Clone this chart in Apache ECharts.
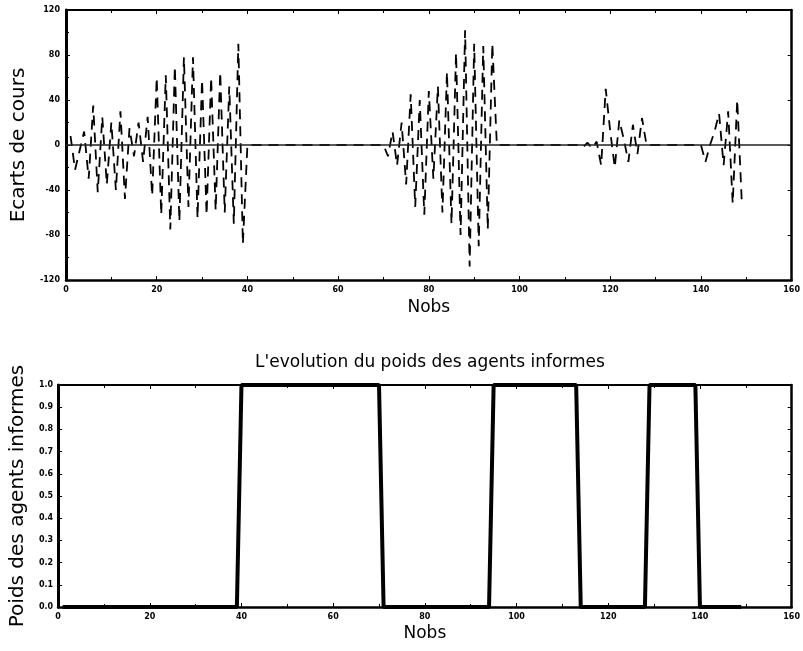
<!DOCTYPE html>
<html>
<head>
<meta charset="utf-8">
<script src="https://cdn.jsdelivr.net/npm/echarts@6/dist/echarts.min.js"></script>
<style>
html,body{margin:0;padding:0;background:#fff;}
#c{width:803px;height:651px;}
</style>
</head>
<body>
<div id="c"></div>
<script>
// Observation numbers
const obs = Array.from({length: 149}, (_, i) => i + 1);

// Ecarts de cours (price deviations), by regime block
const ecartsA = [8, -22, -5, 12, -30, 35, -42, 25, -35, 20,
                 -40, 30, -48, 15, -10, 20, -15, 25, -45, 60,
                 -62, 62, -75, 70, -68, 78, -55, 78, -65, 58,
                 -62, 60, -58, 65, -60, 52, -70, 90, -88];          // obs 1-39
const ecartsB = [0,0,0,0,0,0,0,0,0,0,0,0,0,0,0,0,0,0,0,0,0,0,0,0,0,0,0,0,0,0,0]; // obs 40-70
const ecartsC = [-10, 12, -18, 20, -35, 45, -55, 40, -62, 48, -30, 52, -60,
                 65, -70, 82, -80, 102, -108, 90, -90, 88, -75, 90]; // obs 71-94
const ecartsD = [0,0,0,0,0,0,0,0,0,0,0,0,0,0,0,0,0,0];               // obs 95-112
const ecartsE = [0, -2, 2, -3, 3, -18, 50, 12, -20, 22, 5, -15, 18, -8, 24, 0]; // obs 113-128
const ecartsF = [0,0,0,0,0,0,0,0,0,0,0];                              // obs 129-139
const ecartsG = [0, -15, 0, 12, 28, -18, 30, -52, 40, -50];           // obs 140-149
const ecarts = [].concat(ecartsA, ecartsB, ecartsC, ecartsD, ecartsE, ecartsF, ecartsG);

// Poids des agents informes (0 / 1 regime)
const poids = [].concat(
  new Array(39).fill(0),   // 1-39
  new Array(31).fill(1),   // 40-70
  new Array(24).fill(0),   // 71-94
  new Array(19).fill(1),   // 95-113
  new Array(15).fill(0),   // 114-128
  new Array(11).fill(1),   // 129-139
  new Array(10).fill(0)    // 140-149
);

const xTicks = {min: 0, max: 160, interval: 20};
const yTop = {min: -120, max: 120, interval: 40};
const yBot = {min: 0, max: 1, interval: 0.1};

const labelStyle = {fontFamily: 'DejaVu Sans', fontSize: 8, fontWeight: 'bold', color: '#000'};
const nameStyle = {fontFamily: 'DejaVu Sans', fontSize: 20, color: '#000'};

function mainX(grid, gap) {
  return {
    type: 'value', gridIndex: grid, min: xTicks.min, max: xTicks.max, interval: xTicks.interval,
    name: 'Nobs', nameLocation: 'middle', nameGap: gap,
    nameTextStyle: {fontFamily: 'DejaVu Sans', fontSize: 17, color: '#000'},
    axisLine: {show: true, onZero: false, lineStyle: {color: '#000', width: 2.5}},
    axisTick: {show: true, inside: true, length: 4, lineStyle: {color: '#000', width: 1}},
    minorTick: {show: true, splitNumber: 2, length: 3, lineStyle: {color: '#000'}},
    axisLabel: Object.assign({margin: 6}, labelStyle),
    splitLine: {show: false}
  };
}
function frameX(grid) {
  return {
    type: 'value', gridIndex: grid, position: 'top', min: xTicks.min, max: xTicks.max, interval: xTicks.interval,
    axisLine: {show: true, onZero: false, lineStyle: {color: '#000', width: 2}},
    axisTick: {show: true, inside: true, length: 4, lineStyle: {color: '#000'}},
    minorTick: {show: true, splitNumber: 2, length: 3, lineStyle: {color: '#000'}},
    axisLabel: {show: false}, splitLine: {show: false}
  };
}
function frameY(grid, r) {
  return {
    type: 'value', gridIndex: grid, position: 'right', min: r.min, max: r.max, interval: r.interval,
    axisLine: {show: true, onZero: false, lineStyle: {color: '#000', width: 2.5}},
    axisTick: {show: true, inside: true, length: 4, lineStyle: {color: '#000'}},
    axisLabel: {show: false}, splitLine: {show: false}
  };
}

const option = {
  animation: false,
  backgroundColor: '#fff',
  title: {
    text: "L'evolution du poids des agents informes",
    left: 425, textAlign: 'center', top: 349,
    textStyle: {fontFamily: 'DejaVu Sans', fontSize: 17, fontWeight: 'normal', color: '#000'}
  },
  grid: [
    {left: 66, top: 10, width: 730, height: 270, show: false},
    {left: 54, top: 385, width: 743, height: 222, show: false}
  ],
  xAxis: [mainX(0, 19), frameX(0), mainX(1, 18), frameX(1)],
  yAxis: [
    {
      type: 'value', gridIndex: 0, min: yTop.min, max: yTop.max, interval: yTop.interval,
      name: 'Ecarts de cours', nameLocation: 'middle', nameGap: 34, nameRotate: 90,
      nameTextStyle: nameStyle,
      axisLine: {show: true, onZero: false, lineStyle: {color: '#000', width: 3}},
      axisTick: {show: true, inside: true, length: 4, lineStyle: {color: '#000'}},
      minorTick: {show: true, splitNumber: 2, length: 3, lineStyle: {color: '#000'}},
      axisLabel: Object.assign({margin: 6}, labelStyle),
      splitLine: {show: false}
    },
    frameY(0, yTop),
    {
      type: 'value', gridIndex: 1, min: yBot.min, max: yBot.max, interval: yBot.interval,
      name: 'Poids des agents informes', nameLocation: 'middle', nameGap: 27, nameRotate: 90,
      nameTextStyle: nameStyle,
      axisLine: {show: true, onZero: false, lineStyle: {color: '#000', width: 3}},
      axisTick: {show: true, inside: true, length: 4, lineStyle: {color: '#000'}},
      axisLabel: Object.assign({margin: 5, formatter: v => v.toFixed(1)}, labelStyle),
      splitLine: {show: false}
    },
    frameY(1, yBot)
  ],
  series: [
    {
      type: 'line', xAxisIndex: 0, yAxisIndex: 0, symbol: 'none',
      data: obs.map((o, i) => [o, ecarts[i]]),
      lineStyle: {color: '#000', width: 1.8, type: [10, 7]},
      markLine: {
        silent: true, symbol: 'none', label: {show: false},
        lineStyle: {color: '#222', width: 1.5, type: 'solid'},
        data: [{yAxis: 0}]
      }
    },
    {
      type: 'line', xAxisIndex: 2, yAxisIndex: 2, symbol: 'none',
      data: obs.map((o, i) => [o, poids[i]]),
      lineStyle: {color: '#000', width: 4}
    }
  ]
};

const chart = echarts.init(document.getElementById('c'), null, {renderer: 'canvas'});
chart.setOption(option);
</script>
</body>
</html>
